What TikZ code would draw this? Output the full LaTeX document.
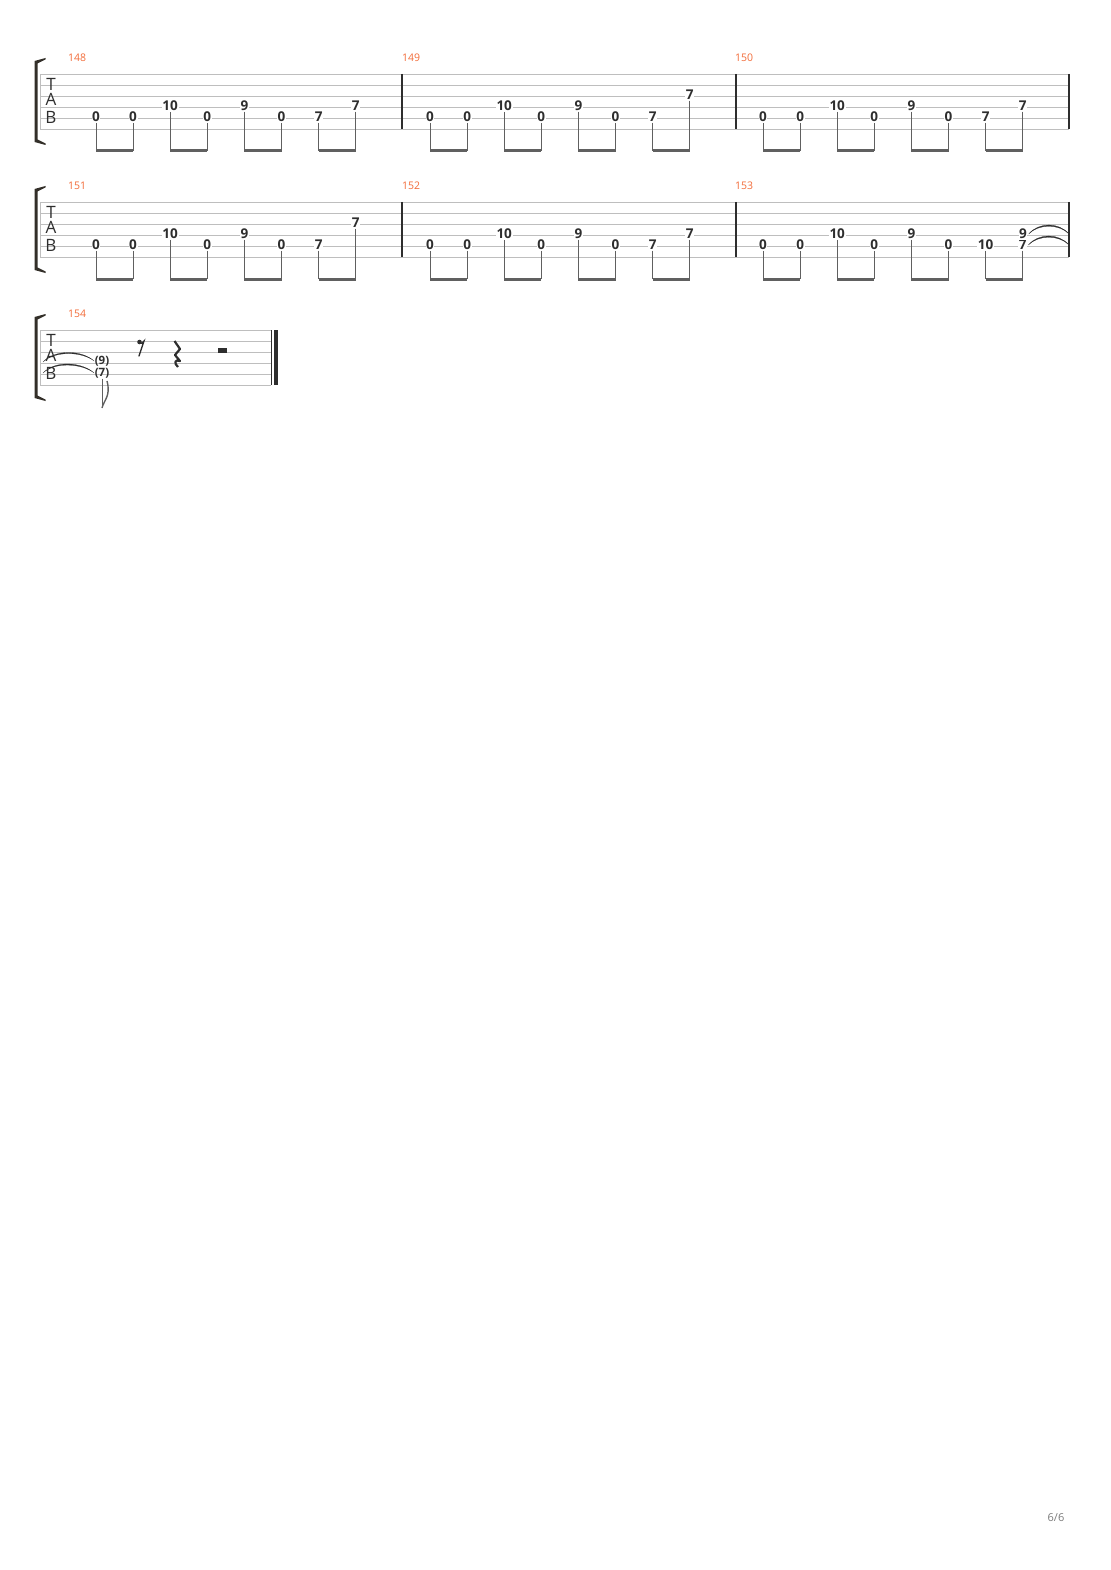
\documentclass[tikz,border=0pt]{standalone}
\usepackage{fontspec}
\setmainfont{Open Sans}
\usetikzlibrary{positioning,calc}

\definecolor{barorange}{HTML}{F26B38}
\definecolor{staffgray}{HTML}{BEBEBE}
\definecolor{inkdark}{HTML}{2E2E2E}
\definecolor{stemgray}{HTML}{606060}
\definecolor{pagegray}{HTML}{7A7A7A}

\begin{document}
\begin{tikzpicture}[x=1pt,y=-1pt,
  staffline/.style={staffgray, line width=0.9pt},
  barline/.style={inkdark, line width=1.2pt},
  fret/.style={font=\bfseries\fontsize{13.5}{13.5}\selectfont, text=inkdark, fill=white, inner sep=0.6pt},
  ghost/.style={font=\bfseries\fontsize{11.5}{11.5}\selectfont, text=inkdark, inner sep=0.5pt},
  barnum/.style={font=\fontsize{10.5}{10.5}\selectfont, text=barorange, anchor=west, inner sep=0pt},
  clef/.style={font=\fontsize{17}{17}\selectfont, text=inkdark, inner sep=0pt},
  stemline/.style={stemgray, line width=1pt},
  beamline/.style={stemgray, line width=3pt},
  tiearc/.style={fill=inkdark, draw=inkdark, line width=0.2pt},
  bracketfill/.style={fill=black!85!olive}
]
\useasboundingbox (0,0) rectangle (1110,1570);

% staves, brackets and clefs
\foreach \s/\top/\right in {1/74/1069, 2/202/1069, 3/330/271} {
  \foreach \k in {0,...,5}
    \draw[staffline] (40,\top+\k*11) -- (\right,\top+\k*11);
  \draw[staffline] (40,\top) -- (40,\top+55);
  \fill[bracketfill] (34.5,\top-13) -- (45.5,\top-16) -- (45.5,\top-14.5) -- (37.5,\top-10.5)
    -- (37.5,\top+65.5) -- (45.5,\top+69.5) -- (45.5,\top+71) -- (34.5,\top+68) -- cycle;
  \node[clef] (T\s) at (51,\top+10) {T};
  \node[clef] (A\s) at (51,\top+25) {A};
  \node[clef] (B\s) at (51,\top+43) {B};
}

% barlines
\foreach \top in {74,202}
  \foreach \bx in {402,736,1069}
    \draw[barline] (\bx,\top) -- (\bx,\top+55);

% measures 148--153
\foreach \m/\top/\x/\ea/\sa/\eb/\sb in {148/74/96/7/5/7/4, 149/74/430/7/5/7/3, 150/74/763/7/5/7/4,
    151/202/96/7/5/7/3, 152/202/430/7/5/7/4, 153/202/763/10/5/7/5} {
  \node[barnum] (m\m) at (\x-28,\top-16) {\m};
  \foreach \i/\f/\st in {1/0/5, 2/0/5, 3/10/4, 4/0/5, 5/9/4, 6/0/5, 7/\ea/\sa, 8/\eb/\sb} {
    \node[fret] (n\m-\i) at (\x+\i*37.1-37.1,\top+\st*11-12) {\f};
    \coordinate (b\m-\i) at (\x+\i*37.1-37.1,\top+77);
    \draw[stemline] (n\m-\i.south) -- (b\m-\i);
  }
  \foreach \i/\j in {1/2,3/4,5/6,7/8}
    \draw[beamline] (b\m-\i) -- (b\m-\j);
}

% chord and ties at the end of 153
\node[fret] (c153) at (1023,234) {9};
\coordinate (t153a) at (1069,234);
\coordinate (t153b) at (1069,245);
\draw[tiearc] ($(c153.east)+(1,0)$) .. controls +(10,-12) and +(-10,-12) .. (t153a)
  .. controls +(-10,-10.3) and +(10,-10.3) .. ($(c153.east)+(1,0)$) -- cycle;
\draw[tiearc] ($(n153-8.east)+(1,0)$) .. controls +(10,-12) and +(-10,-12) .. (t153b)
  .. controls +(-10,-10.3) and +(10,-10.3) .. ($(n153-8.east)+(1,0)$) -- cycle;

% measure 154
\node[barnum] (m154) at (68,314) {154};
\node[ghost] (g154a) at (102,361) {(9)};
\node[ghost] (g154b) at (102,373) {(7)};
\coordinate (t154a) at (43,362);
\coordinate (t154b) at (43,373);
\draw[tiearc] (t154a) .. controls +(12,-13) and +(-12,-11) .. (g154a.west)
  .. controls +(-12,-9.5) and +(12,-11.5) .. (t154a) -- cycle;
\draw[tiearc] (t154b) .. controls +(12,-13) and +(-12,-11) .. (g154b.west)
  .. controls +(-12,-9.5) and +(12,-11.5) .. (t154b) -- cycle;
\coordinate (s154) at (102,408);
\draw[stemline] (g154b.south) -- (s154);
\draw[stemline, line width=1.4pt] (s154) .. controls (104,400) and (111,396) .. (107,381);
% rests
\fill[inkdark] (139.5,342) circle (2.3);
\draw[inkdark, line width=1.4pt, line cap=round] (139,343) .. controls (141,344) and (143,343) .. (144,341) -- (139,356);
\draw[inkdark, line width=2.2pt, line join=round] (174.5,341) -- (180,349) -- (175,355) -- (180,361)
  .. controls (175,359) and (173.5,363) .. (178,367);
\fill[inkdark] (218,348) rectangle (227,353);
% final barline
\draw[inkdark, line width=0.9pt] (271,330) -- (271,385);
\fill[inkdark] (274,330) rectangle (277.5,385);

\node[font=\fontsize{11}{11}\selectfont, text=pagegray] (pagenum) at (1056,1518) {6/6};
\end{tikzpicture}
\end{document}
